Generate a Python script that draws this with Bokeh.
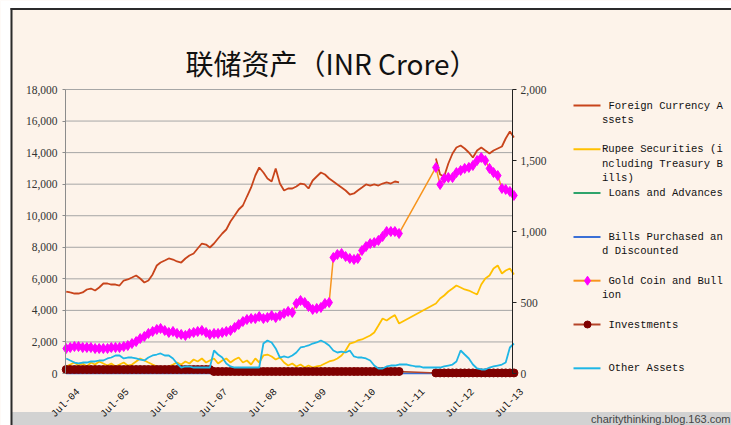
import numpy as np
import pandas as pd
from math import pi
from bokeh.plotting import figure
from bokeh.models import (Range1d, LinearAxis, FixedTicker, DatetimeTickFormatter,
                          NumeralTickFormatter)
from bokeh.core.properties import value
from bokeh.embed import file_html
from bokeh.resources import INLINE

# ---------------- data (monthly readings, Apr-2004 .. Apr-2013) ----------------
months = pd.date_range("2004-04-01", periods=110, freq="MS")

tick_dates = ["2004-07-01", "2005-07-01", "2006-07-01", "2007-07-01", "2008-07-01",
              "2009-07-01", "2010-07-01", "2011-07-01", "2012-07-01", "2013-07-01"]

N = None
# left axis (0-18,000)
foreign_currency = [5197, 5134, 5070, 5070, 5134, 5324, 5387, 5260, 5450, 5704,
                    5704, 5640, 5640, 5577, 5894, 5958, 6084, 6211, 6021, 5768,
                    5894, 6275, 6845, 7035, 7162, 7289, 7225, 7099, 7035, 7289,
                    7479, 7606, 7923, 8239, 8176, 7986, 8239, 8556, 8873, 9127,
                    9634, 10014, 10394, 10648, 11218, 11789, 12549, 13056, 12739, 12359,
                    12169, 12993, 12042, 11599, 11725, 11725, 11852, 12042, 11979, 11725,
                    12232, 12486, 12739, 12613, 12359, 12169, 11979, 11789, 11599, 11345,
                    11409, 11599, 11789, 11979, 11915, 11979, 11915, 12042, 12106, 12042,
                    12169, 12106, N, N, N, N, N, N, N, N,
                    13627, 12613, 12486, 13310, 13944, 14324, 14451, 14261, 14007, 13690,
                    14134, 14324, 14134, 13944, 14134, 14261, 14387, 14894, 15338, 14958]

rupee_securities = [444, 570, 697, 507, 634, 444, 697, 570, 761, 634,
                    507, 634, 444, 570, 697, 507, 570, 761, 951, 824,
                    697, 570, 444, 380, 317, 444, 570, 697, 570, 761,
                    634, 887, 761, 951, 697, 824, 951, 634, 824, 951,
                    697, 887, 1014, 697, 824, 570, 951, 697, 1141, 1204,
                    1078, 887, 1014, 697, 507, 634, 444, 570, 380, 507,
                    380, 444, 507, 634, 761, 824, 951, 1141, 1458, 1901,
                    1965, 2092, 2155, 2282, 2408, 2599, 3042, 3486, 3359, 3549,
                    3700, 3169, N, N, N, N, N, N, N, N,
                    4437, 4754, 4944, 5197, 5387, 5577, 5450, 5324, 5260, 5134,
                    5007, 5641, 6021, 6211, 6655, 6845, 6338, 6528, 6655, 6275]

loans_advances = [60, 55, 50, 50, 45, 45, 40, 40, 40, 35,
                  35, 30, 30, 30, 30, 25, 25, 25, 25, 20,
                  20, 20, 20, 20, 20, 20, 20, 20, 20, 20,
                  20, 20, 20, 20, 20, 20, 10, 10, 10, 10,
                  10, 10, 10, 10, 10, 10, 10, 10, 10, 10,
                  10, 10, 10, 10, 10, 10, 10, 10, 10, 10,
                  10, 10, 10, 10, 10, 10, 10, 10, 10, 10,
                  10, 10, 10, 10, 10, 10, 10, 10, 10, 10,
                  10, 10, 10, 10, 10, 10, 10, 10, 10, 10,
                  10, 10, 10, 10, 10, 10, 10, 10, 10, 10,
                  10, 10, 10, 10, 10, 10, 10, 10, 10, 10]

bills_purchased = [0, 0, 0, 0, 0, 0, 0, 0, 0, 0,
                   0, 0, 0, 0, 0, 0, 0, 0, 0, 0,
                   0, 0, 0, 0, 0, 0, 0, 0, 0, 0,
                   0, 0, 0, 0, 0, 0, 0, 0, 0, 0,
                   0, 0, 0, 0, 0, 0, 0, 0, 0, 0,
                   0, 0, 0, 0, 0, 0, 0, 0, 0, 0,
                   0, 0, 0, 0, 0, 0, 0, 0, 0, 0,
                   0, 0, 0, 0, 0, 0, 0, 0, 0, 0,
                   0, 0, 0, 0, 0, 0, 0, 0, 0, 0,
                   0, 0, 0, 0, 0, 0, 0, 0, 0, 0,
                   0, 0, 0, 0, 0, 0, 0, 0, 0, 0]

other_assets = [951, 824, 697, 634, 697, 697, 761, 761, 824, 824,
                951, 1014, 1141, 1141, 951, 1014, 1014, 951, 887, 824,
                1014, 1141, 1204, 1268, 1141, 1141, 951, 634, 380, 444,
                444, 380, 380, 380, 380, 380, 1458, 1204, 1014, 634,
                444, 380, 380, 380, 380, 380, 380, 380, 1900, 2092,
                1965, 1585, 1014, 1078, 1014, 1141, 1331, 1648, 1711, 1775,
                1901, 1965, 2092, 1965, 1775, 1458, 1331, 1394, 1331, 1458,
                1078, 1014, 1014, 951, 824, 507, 317, 317, 444, 507,
                507, 570, 570, 570, 507, 444, 444, 380, 380, 380,
                380, 380, 444, 507, 570, 761, 1458, 1204, 951, 570,
                317, 254, 254, 380, 444, 507, 570, 697, 1648, 1901]

# right axis (0-2,000)
gold_coin = [176, 183, 190, 190, 183, 183, 183, 176, 176, 176,
             176, 183, 183, 183, 190, 197, 211, 225, 246, 261,
             282, 296, 310, 317, 303, 289, 296, 282, 275, 268,
             282, 289, 296, 303, 289, 275, 282, 282, 289, 296,
             303, 324, 345, 366, 380, 387, 387, 401, 387, 394,
             408, 394, 408, 423, 437, 430, 493, 514, 500, 472,
             451, 458, 465, 493, 500, 817, 838, 845, 824, 810,
             803, 810, 866, 894, 915, 922, 937, 965, 1000, 1000,
             1000, 986, N, N, N, N, N, N, N, N,
             1451, 1331, 1373, 1380, 1380, 1415, 1430, 1444, 1451, 1465,
             1500, 1521, 1500, 1444, 1415, 1394, 1303, 1296, 1282, 1254]

investments = [28, 28, 28, 28, 28, 28, 28, 28, 28, 28,
               28, 28, 28, 28, 28, 28, 28, 28, 28, 28,
               28, 28, 28, 28, 28, 28, 28, 28, 28, 28,
               28, 28, 28, 28, 28, 28, 14, 14, 14, 14,
               14, 14, 14, 14, 14, 14, 14, 14, 14, 14,
               14, 14, 14, 14, 14, 14, 14, 14, 14, 14,
               14, 14, 14, 14, 14, 14, 14, 14, 14, 14,
               14, 14, 14, 14, 14, 14, 14, 14, 14, 14,
               14, 14, N, N, N, N, N, N, N, N,
               4, 4, 4, 4, 4, 4, 4, 4, 4, 4,
               4, 4, 4, 4, 4, 4, 4, 4, 4, 4]

left_ticks = [0, 2000, 4000, 6000, 8000, 10000, 12000, 14000, 16000, 18000]
right_ticks = [0, 500, 1000, 1500, 2000]

title_text = "联储资产（INR Crore）"
legend_text = [
    (" Foreign Currency A", "ssets"),
    ("Rupee Securities (i", "ncluding Treasury B", "ills)"),
    (" Loans and Advances",),
    (" Bills Purchased an", "d Discounted"),
    (" Gold Coin and Bull", "ion"),
    (" Investments",),
    (" Other Assets",),
]
watermark = "charitythinking.blog.163.com"

# ---------------- styling ----------------
BG = "#FDF3EA"
C_FCA = "#C8441B"
C_RUP = "#FFC000"
C_LOAN = "#2EA36B"
C_BILL = "#3B6FD6"
C_GOLD_LINE = "#F7941D"
C_GOLD_MK = "#FF00FF"
C_INV_LINE = "#B5442A"
C_INV_MK = "#7F0000"
C_OTH = "#1EB6E6"
C_TXT = "#111111"

W, H = 731, 425
DAY_MS = 86400000.0
T_JUL04 = pd.Timestamp("2004-07-01").value / 1e6
PX_PER_DAY = 49.3 / 365.25          # one year on the x axis = 49.3 px
PLOT_L, PLOT_R, PLOT_T, PLOT_B = 65, 512, 89, 373   # plot area in pixels


def ms(s):
    return pd.Timestamp(s).value / 1e6


def xa_(px):          # pixel column -> x data (ms)
    return T_JUL04 + (px - 78) / PX_PER_DAY * DAY_MS


def yl(py):           # pixel row -> left-axis value
    return (PLOT_B - py) / (PLOT_B - PLOT_T) * 18000


def yr_(py):          # pixel row -> right-axis value
    return (PLOT_B - py) / (PLOT_B - PLOT_T) * 2000


p = figure(width=W, height=H, x_axis_type="datetime",
           x_range=Range1d(xa_(0), xa_(W)), y_range=Range1d(yl(H), yl(0)),
           output_backend="svg", toolbar_location=None, min_border=0)
p.title.visible = False
p.background_fill_color = BG
p.border_fill_color = BG
p.outline_line_color = None
p.extra_y_ranges = {"right": Range1d(yr_(H), yr_(0))}
p.xgrid.grid_line_color = None
p.ygrid.grid_line_color = None

# screenshot frame: white margin, dark border, grey status strip
p.quad(left=[xa_(0), xa_(0)], right=[xa_(10), xa_(W)], top=[yl(0), yl(0)],
       bottom=[yl(H), yl(7.5)], fill_color="white", line_color=None)
p.quad(left=[xa_(11)], right=[xa_(W)], top=[yl(411.5)], bottom=[yl(H)],
       fill_color="#D2D2D2", line_color=None)
p.segment(x0=[xa_(11), xa_(10)], y0=[yl(7.5), yl(8.5)], x1=[xa_(11), xa_(W)],
          y1=[yl(H), yl(8.5)], line_color="#2B2B2B", line_width=2)

# horizontal gridlines of the plot area
p.segment(x0=[xa_(PLOT_L)] * len(left_ticks), y0=left_ticks,
          x1=[xa_(PLOT_R)] * len(left_ticks), y1=left_ticks,
          line_color="#A6A6A6", line_width=1)

# axes drawn at fixed positions
xa = p.xaxis[0]
xa.fixed_location = 0
xa.bounds = (xa_(40), xa_(540))
xa.ticker = FixedTicker(ticks=[ms(d) for d in tick_dates])
xa.formatter = DatetimeTickFormatter(years="%b-%y", months="%b-%y", days="%b-%y")
xa.major_label_orientation = pi / 4
xa.major_label_text_font = "Liberation Mono"
xa.major_label_text_font_size = "10px"
xa.major_label_text_color = C_TXT
xa.major_tick_line_color = None
xa.minor_tick_line_color = None
xa.axis_line_color = None
xa.major_label_standoff = 11

ya = p.yaxis[0]
ya.fixed_location = xa_(PLOT_L)
ya.bounds = (0, 18000)
ya.ticker = FixedTicker(ticks=left_ticks)
ya.formatter = NumeralTickFormatter(format="0,0")
ya.major_label_text_font = "Liberation Serif"
ya.major_label_text_font_size = "11.5px"
ya.major_label_text_color = "#333333"
ya.axis_line_color = "#8C8C8C"
ya.major_tick_line_color = "#8C8C8C"
ya.major_tick_in = 0
ya.major_tick_out = 3
ya.minor_tick_line_color = None
ya.major_label_standoff = 5

ra = LinearAxis(y_range_name="right", ticker=FixedTicker(ticks=right_ticks),
                formatter=NumeralTickFormatter(format="0,0"))
ra.fixed_location = xa_(PLOT_R)
ra.bounds = (0, 2000)
ra.major_label_text_font = "Liberation Serif"
ra.major_label_text_font_size = "11.5px"
ra.major_label_text_color = "#333333"
ra.axis_line_color = "#222222"
ra.major_tick_line_color = "#222222"
ra.major_tick_in = 0
ra.major_tick_out = 4
ra.minor_tick_line_color = None
ra.major_label_standoff = 4
p.add_layout(ra, "right")


def arr(vals):
    return np.array([np.nan if v is None else v for v in vals], dtype=float)


def connected(vals):
    a = arr(vals)
    m = ~np.isnan(a)
    return months[m], a[m]


# series
p.line(months, arr(foreign_currency), line_color=C_FCA, line_width=1.8)
xr, yr = connected(rupee_securities)
p.line(xr, yr, line_color=C_RUP, line_width=1.8)
p.line(months, arr(loans_advances), line_color=C_LOAN, line_width=1.5)
p.line(months, arr(bills_purchased), line_color=C_BILL, line_width=1.5)
xg, yg = connected(gold_coin)
p.line(xg, yg, line_color=C_GOLD_LINE, line_width=1.5, y_range_name="right")
p.scatter(xg, yg, marker="diamond", size=10, fill_color=C_GOLD_MK,
          line_color=C_GOLD_MK, y_range_name="right")
xi, yi = connected(investments)
p.line(xi, yi, line_color=C_INV_LINE, line_width=1.5, y_range_name="right")
p.scatter(xi, yi, marker="circle", size=8, fill_color=C_INV_MK,
          line_color=C_INV_MK, y_range_name="right")
p.line(months, arr(other_assets), line_color=C_OTH, line_width=1.8)

# title
p.text(x=[xa_(331)], y=[yl(62)], text=[title_text], text_align="center",
       text_baseline="middle", text_font=value("Noto Sans CJK SC"),
       text_font_size="28px", text_color="#111111")

# legend, drawn to the right of the plot area
leg_colors = [C_FCA, C_RUP, C_LOAN, C_BILL, C_GOLD_LINE, C_INV_LINE, C_OTH]
CH = 6.4
ys = [105 + 43.8 * k for k in range(len(legend_text))]
p.segment(x0=[xa_(573)] * 7, y0=[yl(v) for v in ys], x1=[xa_(600)] * 7,
          y1=[yl(v) for v in ys], line_color=leg_colors, line_width=2)
p.scatter([xa_(587)], [yl(ys[4])], marker="diamond", size=9,
          fill_color=C_GOLD_MK, line_color=C_GOLD_MK)
p.scatter([xa_(587)], [yl(ys[5])], marker="circle", size=7,
          fill_color=C_INV_MK, line_color=C_INV_MK)
tx, ty, tt = [], [], []
for k, lines in enumerate(legend_text):
    for j, t in enumerate(lines):
        lead = len(t) - len(t.lstrip(" "))
        tx.append(xa_(601.5 + lead * CH))
        ty.append(yl(ys[k] + 14.5 * j))
        tt.append(t.strip())
p.text(x=tx, y=ty, text=tt, text_align="left", text_baseline="middle",
       text_font=value("Liberation Mono"), text_font_size="10.6px",
       text_color=C_TXT)

# watermark in the status strip
p.text(x=[xa_(730)], y=[yl(418.5)], text=[watermark], text_align="right",
       text_baseline="middle", text_font=value("Liberation Sans"),
       text_font_size="11px", text_color="#444444")

open("out.html", "w").write(file_html(p, INLINE))
